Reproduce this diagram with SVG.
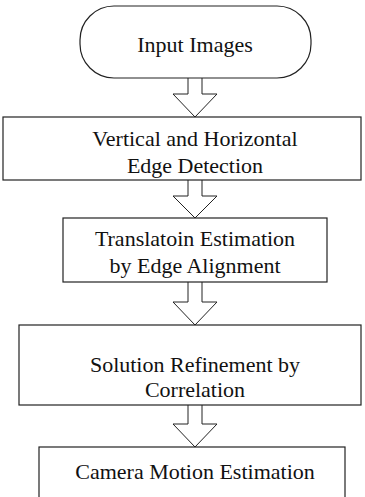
<svg xmlns="http://www.w3.org/2000/svg" width="365" height="497" viewBox="0 0 365 497">
<style>
.box{fill:#fff;stroke:#222;stroke-width:1.2}
.arr{fill:#fff;stroke:#222;stroke-width:1}
text{font-family:"Liberation Serif","Times New Roman",serif;font-size:22px;fill:#111;text-anchor:middle}
</style>
<rect width="365" height="497" fill="#fff"/>
<g id="connectors">
<path class="arr" d="M188,78 V94 H173 L195,117 L217,94 H202 V78"/>
<path class="arr" d="M188,180 V196 H173 L195,218 L217,196 H202 V180"/>
<path class="arr" d="M188,282 V302 H173 L195,325 L217,302 H202 V282"/>
<path class="arr" d="M188,405 V424 H173 L195,447 L217,424 H202 V405"/>
</g>
<g id="n1"><rect class="box" x="80" y="6" width="231" height="72" rx="34" ry="34"/><text x="195" y="52">Input Images</text></g>
<g id="n2"><rect class="box" x="3" y="117" width="358" height="63"/><text x="195" y="146">Vertical and Horizontal</text><text x="195" y="173">Edge Detection</text></g>
<g id="n3"><rect class="box" x="63" y="218" width="264" height="64"/><text x="195" y="246">Translatoin Estimation</text><text x="195" y="273">by Edge Alignment</text></g>
<g id="n4"><rect class="box" x="19" y="325" width="342" height="80"/><text x="195" y="372">Solution Refinement by</text><text x="195" y="397">Correlation</text></g>
<g id="n5"><rect class="box" x="39" y="447" width="306" height="60"/><text x="195" y="479">Camera Motion Estimation</text></g>
</svg>
